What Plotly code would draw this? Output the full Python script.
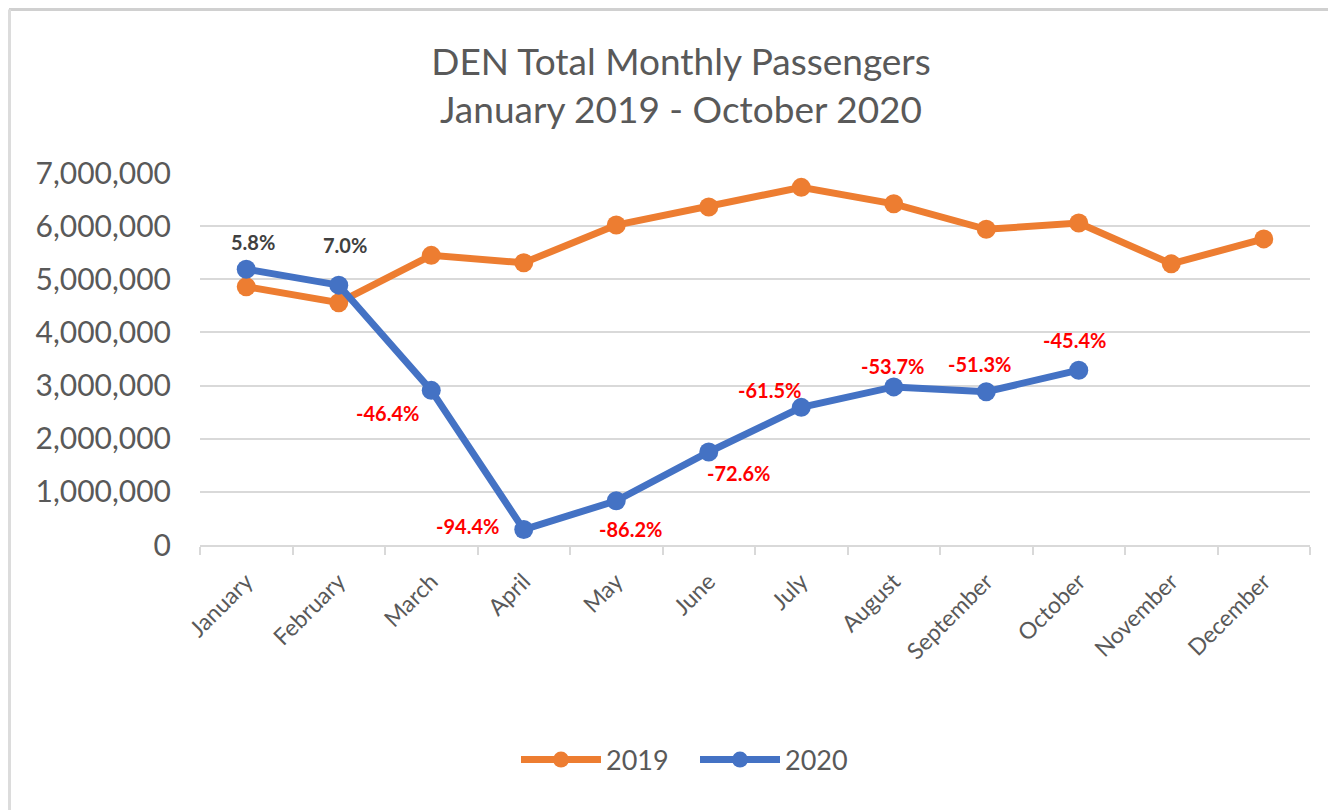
import plotly.graph_objects as go

months = ["January", "February", "March", "April", "May", "June", "July",
          "August", "September", "October", "November", "December"]
pax_2019 = [4860000, 4560000, 5450000, 5310000, 6020000, 6360000, 6730000,
            6420000, 5940000, 6060000, 5290000, 5760000]
pax_2020 = [5190000, 4890000, 2910000, 290000, 833000, 1750000, 2590000,
            2975000, 2885000, 3290000]
pct_labels = ["5.8%", "7.0%", "-46.4%", "-94.4%", "-86.2%", "-72.6%",
              "-61.5%", "-53.7%", "-51.3%", "-45.4%"]
# label offsets in pixels (right, up) relative to each 2020 point
label_offsets = [(7, 27), (6, 40), (-44, -23), (-56, 4), (14, -28), (30, -21),
                 (-32, 17), (-1, 21), (-7, 28), (-4, 30)]

ORANGE = "#ED7D31"
BLUE = "#4472C4"
GREY_TXT = "#595959"
GRID = "#D9D9D9"
FONT = "Lato"

# plot area target (page pixels): x 200..1310, y 173..545 ; page has 8px body offset
OFF = 8
W, H = 1336, 810
L, T = 200 - OFF, 173 - OFF
R = W - (1310 - OFF)
B = H - (545 - OFF)
PW, PH = 1110, 372

fig = go.Figure()
fig.add_trace(go.Scatter(x=months, y=pax_2019, name="2019", mode="lines+markers",
                         line=dict(color=ORANGE, width=7),
                         marker=dict(color=ORANGE, size=19)))
fig.add_trace(go.Scatter(x=months[:len(pax_2020)], y=pax_2020, name="2020",
                         mode="lines+markers",
                         line=dict(color=BLUE, width=7),
                         marker=dict(color=BLUE, size=19)))

for m, v, t, (dx, dy) in zip(months, pax_2020, pct_labels, label_offsets):
    col = "#404040" if not t.startswith("-") else "#FF0000"
    fig.add_annotation(x=m, y=v, text=f"<b>{t}</b>", showarrow=False,
                       xshift=dx, yshift=dy,
                       font=dict(family=FONT, size=20, color=col))

fig.update_layout(
    width=W, height=H,
    paper_bgcolor="white", plot_bgcolor="white",
    margin=dict(l=L, r=R, t=T, b=B),
    title=dict(text="DEN Total Monthly Passengers<br>January 2019 - October 2020",
               x=(681 - OFF) / W, xanchor="center", y=1 - (75 - OFF) / H,
               yanchor="middle",
               font=dict(family=FONT, size=37, color=GREY_TXT)),
    font=dict(family=FONT, color=GREY_TXT),
    legend=dict(orientation="h", x=(695 - 200) / PW, xanchor="center",
                y=(545 - 760) / PH, yanchor="middle",
                font=dict(family=FONT, size=27, color=GREY_TXT),
                itemwidth=80, entrywidth=84, entrywidthmode="pixels",
                traceorder="normal"),
    xaxis=dict(type="category", categoryorder="array", categoryarray=months,
               range=[-0.5, 11.5],
               showgrid=False, showline=True, linecolor=GRID, linewidth=2,
               ticks="outside", tickson="boundaries", ticklen=8, tickcolor=GRID,
               tickwidth=2, tickangle=-45, ticklabelstandoff=12,
               tickfont=dict(family=FONT, size=23, color=GREY_TXT)),
    yaxis=dict(range=[0, 7000000], tickvals=[0, 1e6, 2e6, 3e6, 4e6, 5e6, 6e6, 7e6],
               tickformat=",d", showgrid=True, gridcolor=GRID, gridwidth=2,
               zeroline=False, showline=False, ticks="", ticklabelstandoff=28,
               tickfont=dict(family=FONT, size=30, color=GREY_TXT)),
    shapes=[
        dict(type="line", xref="paper", yref="paper", x0=(1 - L) / PW, x1=1.2,
             y0=1 + (T - 1.5) / PH, y1=1 + (T - 1.5) / PH,
             line=dict(color="#D0D0D0", width=3)),
        dict(type="line", xref="paper", yref="paper", x0=(1.5 - L) / PW,
             x1=(1.5 - L) / PW, y0=1 + (T - 1.5) / PH, y1=-(B + 10) / PH,
             line=dict(color="#DCDCDC", width=3)),
    ],
)

fig.write_html("out.html")
